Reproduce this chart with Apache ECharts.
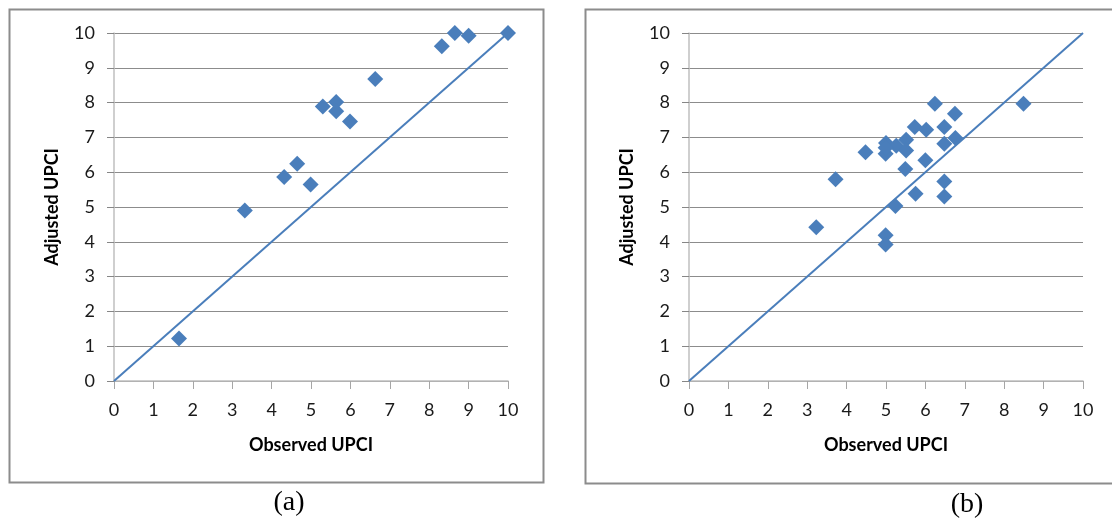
<!DOCTYPE html>
<html>
<head>
<meta charset="utf-8">
<script src="https://cdn.jsdelivr.net/npm/echarts@6/dist/echarts.min.js"></script>
<style>
  html, body { margin: 0; padding: 0; background: #fff; }
  #main { width: 1112px; height: 518px; }
</style>
</head>
<body>
<div id="main"></div>
<script>
// panel (a)
var observedA = [1.65, 3.32, 4.32, 4.65, 4.99, 5.30, 5.64, 5.64, 5.99, 6.63, 8.32, 8.65, 9.0, 10.0];
var adjustedA = [1.22, 4.90, 5.86, 6.24, 5.65, 7.89, 8.02, 7.75, 7.46, 8.68, 9.62, 10.0, 9.92, 10.0];
// panel (b)
var observedB = [3.23, 3.72, 4.48, 4.99, 4.99, 4.99, 5.0, 5.24, 5.26, 5.49, 5.51, 5.51, 5.73, 5.75,
                 6.0, 6.02, 6.24, 6.48, 6.48, 6.48, 6.48, 6.75, 6.76, 8.49, 4.99];
var adjustedB = [4.42, 5.80, 6.57, 6.53, 4.19, 3.92, 6.84, 5.03, 6.76, 6.09, 6.93, 6.62, 7.30, 5.38,
                 6.34, 7.22, 7.97, 7.30, 6.82, 5.73, 5.30, 7.68, 6.98, 7.97, 6.70];
var axisTicks = [0, 10, 1];
var xName = 'Observed UPCI';
var yName = 'Adjusted UPCI';
var captions = ['(a)', '(b)'];

function pairs(xs, ys) {
    return xs.map(function (x, i) { return [x, ys[i]]; });
}

var font = 'Lato, "Open Sans", sans-serif';
var blue = '#4a7ebb';

function xAxis(idx) {
    return {
        gridIndex: idx, type: 'value',
        min: axisTicks[0], max: axisTicks[1], interval: axisTicks[2],
        name: xName, nameLocation: 'middle', nameGap: 55,
        nameTextStyle: {fontFamily: font, fontWeight: 'bold', fontSize: 18, color: '#000'},
        axisLine: {show: true, lineStyle: {color: '#bfbfbf', width: 1.5}},
        axisTick: {show: true, length: 8, lineStyle: {color: '#a6a6a6'}},
        axisLabel: {fontFamily: font, fontSize: 18, color: '#1a1a1a', margin: 20},
        splitLine: {show: false}
    };
}
function yAxis(idx) {
    return {
        gridIndex: idx, type: 'value',
        min: axisTicks[0], max: axisTicks[1], interval: axisTicks[2],
        name: yName, nameLocation: 'middle', nameGap: 53, nameRotate: 90,
        nameTextStyle: {fontFamily: font, fontWeight: 'bold', fontSize: 18, color: '#000'},
        axisLine: {show: true, lineStyle: {color: '#bfbfbf', width: 1.5}},
        axisTick: {show: true, length: 7, lineStyle: {color: '#868686'}},
        axisLabel: {fontFamily: font, fontSize: 18, color: '#1a1a1a', margin: 19},
        splitLine: {show: true, lineStyle: {color: '#8c8c8c', width: 1}}
    };
}

var chart = echarts.init(document.getElementById('main'));
chart.setOption({
    animation: false,
    backgroundColor: '#fff',
    grid: [
        {left: 114, top: 33, width: 394, height: 348},
        {left: 689, top: 33, width: 394, height: 348}
    ],
    xAxis: [xAxis(0), xAxis(1)],
    yAxis: [yAxis(0), yAxis(1)],
    graphic: [
        {type: 'rect', shape: {x: 9.5, y: 9.5, width: 534, height: 473},
         style: {fill: 'none', stroke: '#8c8c8c', lineWidth: 2}},
        {type: 'rect', shape: {x: 585.5, y: 9.5, width: 540, height: 474},
         style: {fill: 'none', stroke: '#8c8c8c', lineWidth: 2}},
        {type: 'text', x: 289, y: 503,
         style: {text: captions[0], font: '28px "Liberation Serif", serif', fill: '#000',
                 textAlign: 'center', textVerticalAlign: 'middle'}},
        {type: 'text', x: 967, y: 505,
         style: {text: captions[1], font: '28px "Liberation Serif", serif', fill: '#000',
                 textAlign: 'center', textVerticalAlign: 'middle'}}
    ],
    series: [
        {type: 'line', xAxisIndex: 0, yAxisIndex: 0, data: [[0, 0], [10, 10]],
         showSymbol: false, lineStyle: {color: blue, width: 2}, z: 2},
        {type: 'line', xAxisIndex: 1, yAxisIndex: 1, data: [[0, 0], [10, 10]],
         showSymbol: false, lineStyle: {color: blue, width: 2}, z: 2},
        {type: 'scatter', xAxisIndex: 0, yAxisIndex: 0, data: pairs(observedA, adjustedA),
         symbol: 'diamond', symbolSize: [16, 16], itemStyle: {color: blue, opacity: 1}, z: 3},
        {type: 'scatter', xAxisIndex: 1, yAxisIndex: 1, data: pairs(observedB, adjustedB),
         symbol: 'diamond', symbolSize: [16, 16], itemStyle: {color: blue, opacity: 1}, z: 3}
    ]
});
</script>
</body>
</html>
